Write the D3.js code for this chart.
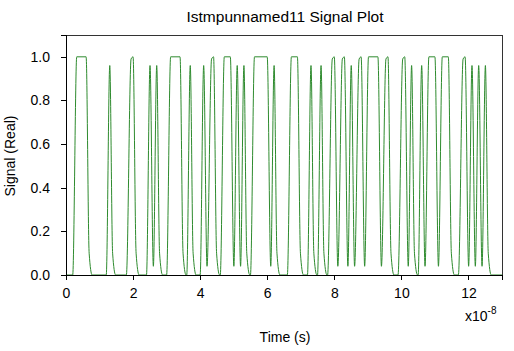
<!DOCTYPE html>
<html><head><meta charset="utf-8">
<script src="https://cdn.jsdelivr.net/npm/d3@7"></script>
<style>
body{margin:0;background:#fff}
svg{display:block}
text{font-family:Arial,"Liberation Sans",sans-serif;fill:#000}
</style>
</head><body>
<svg id="chart" width="514" height="351"></svg>
<script>
// ---- data (time in units of 1e-8 s) ----
const chartTitle = "Istmpunnamed11 Signal Plot";
const xLabel = "Time (s)";
const yLabel = "Signal (Real)";
const xTickValues = [0, 2, 4, 6, 8, 10, 12];
const yTickValues = [0.0, 0.2, 0.4, 0.6, 0.8, 1.0];
const xDomain = [0, 13];
const yDomain = [0, 1.1];

const signalTime = [
  0,
  0.2,0.32,0.6,0.69,0.78,
  1.2,1.305,1.39,1.48,
  1.8,1.94,2.0,2.09,2.18,
  2.4,2.505,2.605,
  2.705,2.79,2.88,
  3.0,3.12,3.4,3.49,3.58,
  3.6,3.705,3.79,3.88,
  4.0,4.105,4.205,
  4.34,4.4,4.49,4.58,
  4.6,4.72,4.9,5.005,
  5.105,5.205,
  5.305,5.39,5.48,
  5.5,5.62,6.0,6.105,
  6.205,6.29,6.38,
  6.6,6.72,6.9,6.99,7.08,
  7.2,7.305,7.39,7.48,
  7.5,7.605,7.69,7.78,
  7.8,7.94,8.0,8.105,
  8.24,8.3,8.405,
  8.505,8.605,
  8.74,8.8,8.905,
  9.02,9.3,9.405,
  9.54,9.6,9.69,9.78,
  9.9,10.04,10.1,10.205,
  10.305,10.39,10.48,
  10.5,10.605,10.705,
  10.82,11.0,11.105,
  11.22,11.4,11.49,11.58,
  11.7,11.84,11.9,12.005,
  12.105,12.205,
  12.305,12.405,
  12.505,12.59,12.68,
  13.0
];
const signalValue = [
  0,
  0,1,1,0.1,0,
  0,0.96,0.1,0,
  0,0.99,1,0.1,0,
  0,0.96,0.04,
  0.96,0.1,0,
  0,1,1,0.1,0,
  0,0.96,0.1,0,
  0,0.96,0.04,
  0.99,1,0.1,0,
  0,1,1,0.04,
  0.96,0.04,
  0.96,0.1,0,
  0,1,1,0.04,
  0.96,0.1,0,
  0,1,1,0.1,0,
  0,0.96,0.1,0,
  0,0.96,0.1,0,
  0,0.99,1,0.04,
  0.99,1,0.04,
  0.96,0.04,
  0.99,1,0.04,
  1,1,0.04,
  0.99,1,0.1,0,
  0,0.99,1,0.04,
  0.96,0.1,0,
  0,0.96,0.04,
  1,1,0.04,
  1,1,0.1,0,
  0,0.99,1,0.04,
  0.96,0.04,
  0.96,0.04,
  0.96,0.1,0,
  0
];

// ---- layout ----
const svg = d3.select("#chart");
const plot = {left: 66, right: 502, top: 35, bottom: 275};
const x = d3.scaleLinear().domain(xDomain).range([plot.left, plot.right]);
const y = d3.scaleLinear().domain(yDomain).range([plot.bottom, plot.top]);

// frame (top & right)
svg.append("path")
  .attr("d", `M${plot.left},${plot.top}H${plot.right}V${plot.bottom}`)
  .attr("fill", "none").attr("stroke", "#333").attr("stroke-width", 1)
  .attr("shape-rendering", "crispEdges");

// signal line
const points = signalTime.map((t, i) => [t, signalValue[i]]);
const line = d3.line().x(d => x(d[0])).y(d => y(d[1])).curve(d3.curveMonotoneX);
svg.append("path")
  .datum(points)
  .attr("d", line)
  .attr("fill", "none")
  .attr("stroke", "#2e8b2e")
  .attr("stroke-width", 1);

// axes
const xMinor = d3.range(0, 13.01, 0.5);
const yMinor = d3.range(0, 1.101, 0.05);
const fs = "14px";

const gx = svg.append("g").attr("transform", `translate(0,${plot.bottom})`);
gx.call(d3.axisBottom(x).tickValues(xMinor).tickSize(3).tickFormat(""));
gx.call(d3.axisBottom(x).tickValues(xTickValues).tickSize(5).tickPadding(8).tickFormat(d3.format("d")));
gx.selectAll("text").style("font-size", fs).attr("fill", "#000");

const gy = svg.append("g").attr("transform", `translate(${plot.left},0)`);
gy.call(d3.axisLeft(y).tickValues(yMinor).tickSize(3).tickFormat(""));
gy.call(d3.axisLeft(y).tickValues(yTickValues).tickSize(5).tickPadding(11).tickFormat(d3.format(".1f")));
gy.selectAll("text").style("font-size", fs).attr("fill", "#000");

svg.selectAll(".domain").attr("stroke", "#000").attr("shape-rendering", "crispEdges");
svg.selectAll(".tick line").attr("stroke", "#000").attr("shape-rendering", "crispEdges");

// title and labels
svg.append("text").attr("x", 285).attr("y", 22).attr("text-anchor", "middle")
  .style("font-size", "15.5px").text(chartTitle);
svg.append("text").attr("x", 285).attr("y", 342).attr("text-anchor", "middle")
  .style("font-size", "14px").text(xLabel);
svg.append("text").attr("transform", "translate(15,156) rotate(-90)").attr("text-anchor", "middle")
  .style("font-size", "14px").text(yLabel);

// exponent label
const ex = svg.append("text").attr("x", 465).attr("y", 321).style("font-size", "14px");
ex.append("tspan").text("x10");
ex.append("tspan").attr("dy", -7).style("font-size", "10px").text("-8");
</script>
</body></html>
